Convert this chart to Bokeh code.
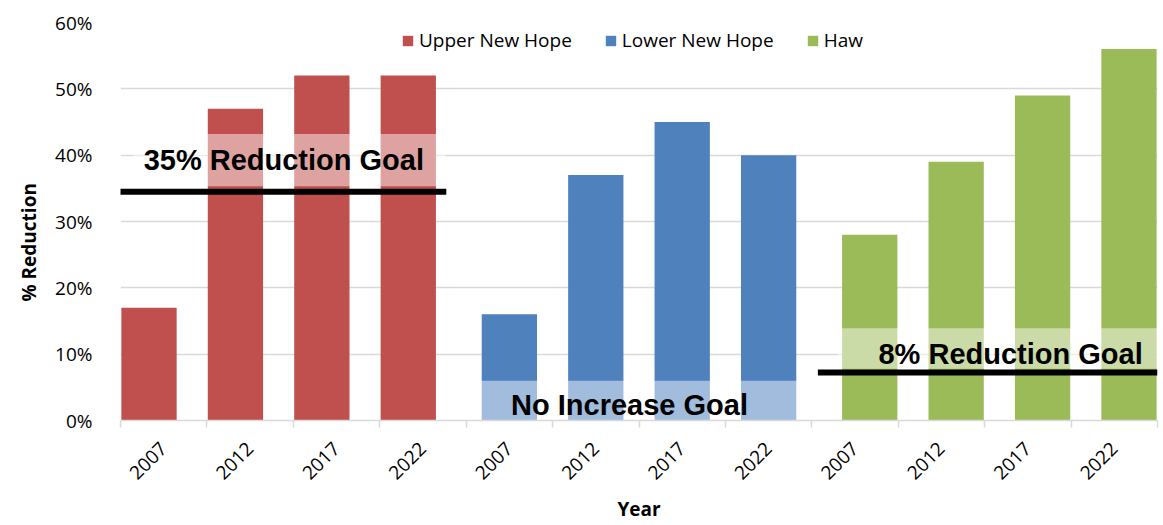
import math
from bokeh.plotting import figure
from bokeh.models import (ColumnDataSource, FixedTicker, PrintfTickFormatter,
                          Legend, LegendItem, Title)
from bokeh.core.properties import value
from bokeh.embed import file_html
from bokeh.resources import INLINE

# ---------------- data ----------------
years = ["2007", "2012", "2017", "2022"]
series_names = ["Upper New Hope", "Lower New Hope", "Haw"]
upper_new_hope = [17, 47, 52, 52]
lower_new_hope = [16, 37, 45, 40]
haw = [28, 39, 49, 56]
series_values = [upper_new_hope, lower_new_hope, haw]
colors = ["#C0504D", "#4F81BD", "#9BBB59"]
y_ticks = [0, 10, 20, 30, 40, 50, 60]

# goal annotations (category units on x, % on y)
goal_texts = ["35% Reduction Goal", "No Increase Goal", "8% Reduction Goal"]
goal_text_x = [1.89, 5.89, 10.30]
goal_text_y = [39.3, 2.4, 10.1]
goal_box_left = [0.15, 3.85, 8.30]
goal_box_right = [3.76, 7.84, 12.0]
goal_box_bottom = [35.3, 0.0, 7.8]
goal_box_top = [43.2, 6.0, 13.9]
goal_line_x0 = [-0.06, 8.07]
goal_line_x1 = [3.77, 12.0]
goal_line_y = [34.5, 7.25]

n_years = len(years)
bar_offsets = [-0.17, 0.0, 0.17]
bar_width = 0.64

FONT = "Open Sans"
GRID = "#D9D9D9"

p = figure(width=1163, height=525, output_backend="svg", toolbar_location=None,
           x_range=(0, len(series_names) * n_years), y_range=(0, 60),
           min_border_left=120, min_border_right=6, min_border_top=22,
           min_border_bottom=105)
p.outline_line_color = None
p.background_fill_color = "white"

renderers = []
for g, (name, vals, col) in enumerate(zip(series_names, series_values, colors)):
    xs = [g * n_years + i + 0.5 + bar_offsets[g] for i in range(n_years)]
    src = ColumnDataSource(dict(x=xs, top=vals, year=years))
    r = p.vbar(x="x", top="top", bottom=0, width=bar_width, source=src,
               fill_color=col, line_color=None)
    renderers.append(r)

# semi-transparent text boxes
p.quad(left=goal_box_left, right=goal_box_right, bottom=goal_box_bottom,
       top=goal_box_top, fill_color="white", fill_alpha=0.47, line_color=None)

# goal lines
p.segment(x0=goal_line_x0, x1=goal_line_x1, y0=goal_line_y, y1=goal_line_y,
          line_color="black", line_width=6)

# goal texts
p.text(x=goal_text_x, y=goal_text_y, text=goal_texts,
       text_font=value("Liberation Sans"), text_font_style="bold",
       text_font_size="29px", text_align="center", text_baseline="middle",
       text_color="black")

# ---------------- axes ----------------
centers = [i + 0.5 for i in range(len(series_names) * n_years)]
bounds = [float(i) for i in range(len(series_names) * n_years + 1)]
xa = p.xaxis[0]
xa.ticker = FixedTicker(ticks=centers, minor_ticks=bounds)
xa.major_label_overrides = {c: years[k % n_years] for k, c in enumerate(centers)}
xa.major_label_orientation = math.pi / 4
xa.major_tick_out = 0
xa.major_tick_in = 0
xa.minor_tick_out = 7
xa.minor_tick_in = 0
xa.minor_tick_line_color = GRID
xa.minor_tick_line_width = 1.5
xa.axis_line_color = GRID
xa.axis_line_width = 1.5
xa.major_label_text_font = FONT
xa.major_label_text_font_size = "19px"
xa.major_label_text_color = "black"
xa.major_label_standoff = 18
xa.axis_label = "Year"
xa.axis_label_text_font = FONT
xa.axis_label_text_font_style = "bold"
xa.axis_label_text_font_size = "19px"
xa.axis_label_text_color = "black"
xa.axis_label_standoff = 8

ya = p.yaxis[0]
ya.ticker = FixedTicker(ticks=y_ticks)
ya.formatter = PrintfTickFormatter(format="%d%%")
ya.axis_line_color = None
ya.major_tick_line_color = None
ya.minor_tick_line_color = None
ya.major_label_text_font = FONT
ya.major_label_text_font_size = "19px"
ya.major_label_text_color = "black"
ya.major_label_standoff = 22

p.xgrid.grid_line_color = None
p.ygrid.grid_line_color = GRID
p.ygrid.grid_line_width = 1.5

# y axis title (shifted slightly below the frame centre, as in the original)
ytitle = Title(text="% Reduction", align="left", offset=119, standoff=22,
               text_font=FONT, text_font_style="bold", text_font_size="19px",
               text_color="black")
p.add_layout(ytitle, "left")

# ---------------- legend ----------------
legend = Legend(items=[LegendItem(label=n, renderers=[r])
                       for n, r in zip(series_names, renderers)],
                orientation="horizontal", location=(281, 367),
                glyph_width=13, glyph_height=13, label_standoff=5, spacing=32,
                padding=12, margin=0, border_line_color=None,
                background_fill_color="white", background_fill_alpha=1.0,
                label_text_font=FONT, label_text_font_size="19px",
                label_text_color="black")
p.add_layout(legend, "center")

open("out.html", "w").write(file_html(p, INLINE))
